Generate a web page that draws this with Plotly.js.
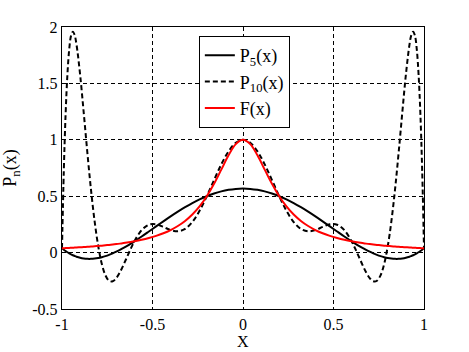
<!DOCTYPE html>
<html><head><meta charset="utf-8">
<script src="https://cdn.plot.ly/plotly-3.0.1.min.js"></script>
<style>html,body{margin:0;padding:0;background:#fff}#chart{width:469px;height:352px}</style>
</head><body><div id="chart"></div>
<script>
var xVals = [-1.00,-0.99,-0.98,-0.97,-0.96,-0.95,-0.94,-0.93,-0.92,-0.90,-0.88,-0.86,-0.84,-0.82,-0.80,-0.78,-0.76,-0.74,-0.72,-0.70,-0.68,-0.66,-0.64,-0.62,-0.60,-0.56,-0.52,-0.48,-0.44,-0.40,-0.36,-0.32,-0.28,-0.24,-0.20,-0.16,-0.12,-0.08,-0.04,
0.00,0.04,0.08,0.12,0.16,0.20,0.24,0.28,0.32,0.36,0.40,0.44,0.48,0.52,0.56,0.60,0.62,0.64,0.66,0.68,0.70,0.72,0.74,0.76,0.78,0.80,0.82,0.84,0.86,0.88,0.90,0.92,0.93,0.94,0.95,0.96,0.97,0.98,0.99,1.00];
var p5Vals = [0.0385,0.0255,0.0137,0.0029,-0.0069,-0.0157,-0.0236,-0.0305,-0.0366,-0.0460,-0.0522,-0.0553,-0.0555,-0.0530,-0.0481,-0.0408,-0.0314,-0.0200,-0.0069,0.0078,0.0240,0.0414,0.0600,0.0796,0.1000,0.1427,0.1872,0.2323,0.2773,0.3212,0.3632,0.4027,0.4390,0.4716,0.5000,0.5238,0.5426,0.5563,0.5645,
0.5673,0.5645,0.5563,0.5426,0.5238,0.5000,0.4716,0.4390,0.4027,0.3632,0.3212,0.2773,0.2323,0.1872,0.1427,0.1000,0.0796,0.0600,0.0414,0.0240,0.0078,-0.0069,-0.0200,-0.0314,-0.0408,-0.0481,-0.0530,-0.0555,-0.0553,-0.0522,-0.0460,-0.0366,-0.0305,-0.0236,-0.0157,-0.0069,0.0029,0.0137,0.0255,0.0385];
var p10Vals = [0.0385,0.7261,1.2303,1.5810,1.8044,1.9236,1.9589,1.9280,1.8458,1.5787,1.2402,0.8881,0.5604,0.2802,0.0588,-0.1007,-0.2013,-0.2496,-0.2546,-0.2262,-0.1743,-0.1083,-0.0363,0.0349,0.1000,0.1987,0.2472,0.2510,0.2278,0.2000,0.1888,0.2099,0.2710,0.3708,0.5000,0.6432,0.7817,0.8971,0.9733,
1.0000,0.9733,0.8971,0.7817,0.6432,0.5000,0.3708,0.2710,0.2099,0.1888,0.2000,0.2278,0.2510,0.2472,0.1987,0.1000,0.0349,-0.0363,-0.1083,-0.1743,-0.2262,-0.2546,-0.2496,-0.2013,-0.1007,0.0588,0.2802,0.5604,0.8881,1.2402,1.5787,1.8458,1.9280,1.9589,1.9236,1.8044,1.5810,1.2303,0.7261,0.0385];
var fVals = [0.0385,0.0392,0.0400,0.0408,0.0416,0.0424,0.0433,0.0442,0.0451,0.0471,0.0491,0.0513,0.0536,0.0561,0.0588,0.0617,0.0648,0.0681,0.0716,0.0755,0.0796,0.0841,0.0890,0.0943,0.1000,0.1131,0.1289,0.1479,0.1712,0.2000,0.2358,0.2809,0.3378,0.4098,0.5000,0.6098,0.7353,0.8621,0.9615,
1.0000,0.9615,0.8621,0.7353,0.6098,0.5000,0.4098,0.3378,0.2809,0.2358,0.2000,0.1712,0.1479,0.1289,0.1131,0.1000,0.0943,0.0890,0.0841,0.0796,0.0755,0.0716,0.0681,0.0648,0.0617,0.0588,0.0561,0.0536,0.0513,0.0491,0.0471,0.0451,0.0442,0.0433,0.0424,0.0416,0.0408,0.0400,0.0392,0.0385];
var seriesNames = ['P<sub>5</sub>(x)','P<sub>10</sub>(x)','F(x)'];
var xTickVals = [-1,-0.5,0,0.5,1];
var xTickText = ['-1','-0.5','0','0.5','1'];
var yTickVals = [-0.5,0,0.5,1,1.5,2];
var yTickText = ['-0.5','0','0.5','1','1.5','2'];
var xTitle = 'X';
var yTitle = 'P<sub>n</sub>(x)';

var font = '"Liberation Serif", "Times New Roman", serif';
var traces = [
  {x:xVals, y:p5Vals, name:seriesNames[0], mode:'lines', line:{color:'#000', width:2, shape:'spline'}},
  {x:xVals, y:p10Vals, name:seriesNames[1], mode:'lines', line:{color:'#000', width:2, dash:'5px,3px', shape:'spline'}},
  {x:xVals, y:fVals, name:seriesNames[2], mode:'lines', line:{color:'#ff0000', width:2, shape:'spline'}}
];
function ax(extra) {
  var a = {showline:true, mirror:true, linecolor:'#000', linewidth:1.3, ticks:'', zeroline:false,
    showgrid:true, gridcolor:'#000', gridwidth:1, griddash:'4px,3px',
    tickfont:{family:font, size:16, color:'#000'}};
  for (var k in extra) a[k] = extra[k];
  return a;
}
var layout = {
  width:469, height:352, paper_bgcolor:'#fff', plot_bgcolor:'#fff',
  margin:{l:62, r:45, t:27, b:43},
  font:{family:font, color:'#000', size:16},
  showlegend:true,
  legend:{x:0.378, y:0.968, xanchor:'left', yanchor:'top', bgcolor:'#fff', bordercolor:'#000', borderwidth:1,
    font:{family:font, size:18, color:'#000'}, tracegroupgap:0},
  xaxis:ax({range:[-1,1], tickvals:xTickVals, ticktext:xTickText}),
  yaxis:ax({range:[-0.5,2], tickvals:yTickVals, ticktext:yTickText,
    title:{text:yTitle, font:{family:font, size:18, color:'#000'}}}),
  annotations:[{text:xTitle, xref:'paper', yref:'paper', x:0.5, y:-0.117, xanchor:'center', yanchor:'middle',
    showarrow:false, borderpad:0, font:{family:font, size:16, color:'#000'}}]
};
Plotly.newPlot('chart', traces, layout, {displayModeBar:false, staticPlot:true});
</script></body></html>
